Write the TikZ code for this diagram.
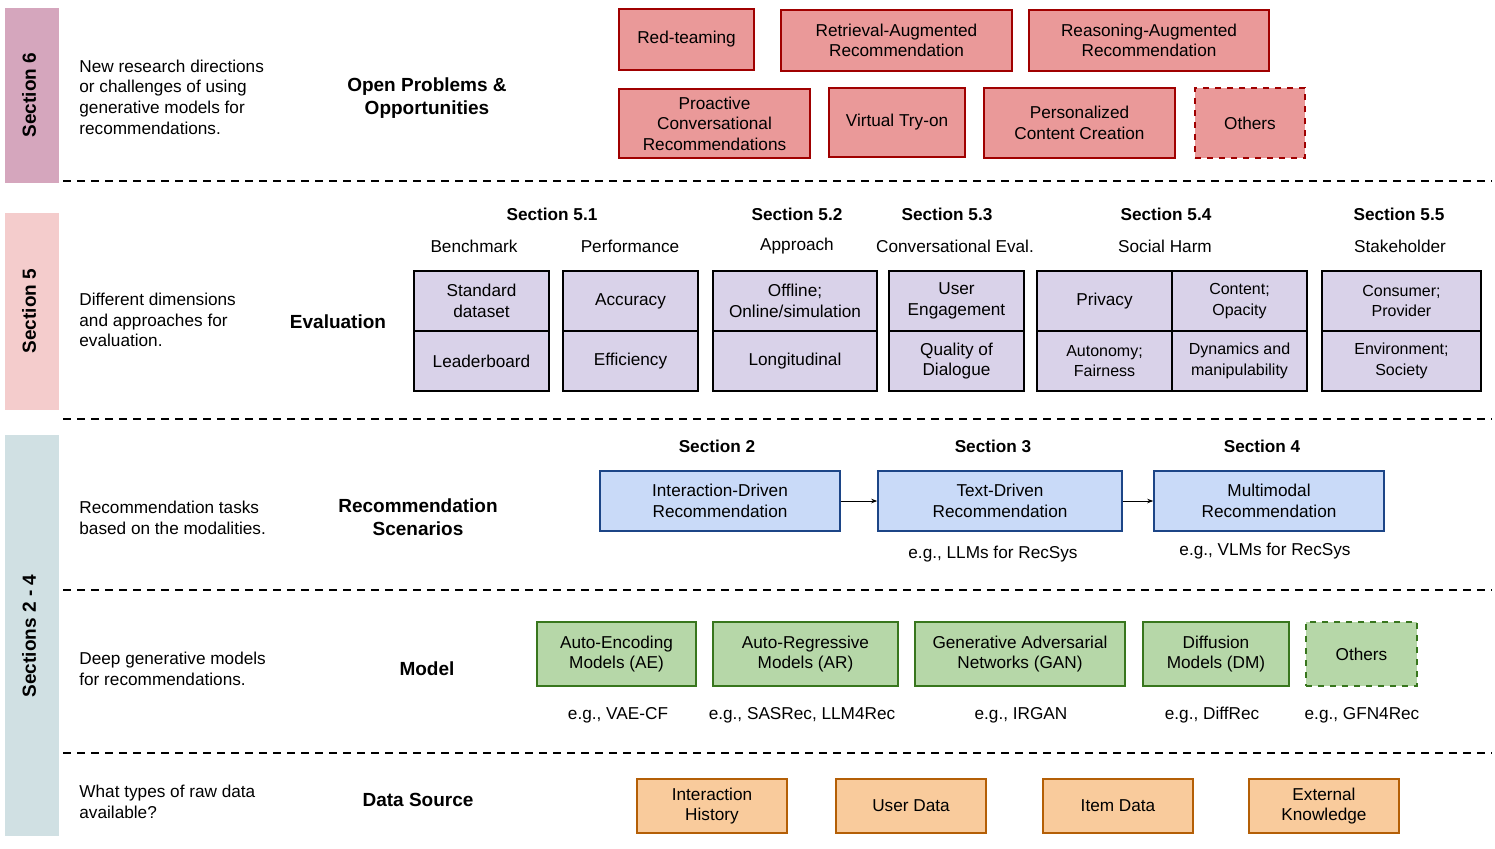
\documentclass[tikz,border=0pt]{standalone}
\usepackage{fontspec}
\setmainfont{Liberation Sans}
\usetikzlibrary{arrows.meta}
\definecolor{bsix}{HTML}{D5A6BD}\definecolor{bfive}{HTML}{F4CCCC}\definecolor{bfour}{HTML}{D0E0E3}
\definecolor{redf}{HTML}{EA9999}\definecolor{redd}{HTML}{A00000}
\definecolor{purf}{HTML}{D9D2E9}
\definecolor{bluf}{HTML}{C9DAF8}\definecolor{blud}{HTML}{1C4587}
\definecolor{grnf}{HTML}{B6D7A8}\definecolor{grnd}{HTML}{38761D}
\definecolor{orf}{HTML}{F9CB9C}\definecolor{ord}{HTML}{B45F06}
\begin{document}
\begin{tikzpicture}[x=0.5pt,y=-0.5pt,
  every node/.style={font=\fontsize{8.6}{10.3}\selectfont, inner sep=0pt},
  box/.style={draw, line width=0.8pt, align=center},
  red/.style={box, fill=redf, draw=redd},
  pur/.style={box, fill=purf, draw=black},
  blu/.style={box, fill=bluf, draw=blud},
  grn/.style={box, fill=grnf, draw=grnd},
  org/.style={box, fill=orf, draw=ord},
  dsh/.style={dashed},
  desc/.style={anchor=west, align=left},
  title/.style={font=\fontsize{9.5}{11.5}\selectfont\bfseries, align=center},
  sec/.style={font=\fontsize{8.6}{10}\selectfont\bfseries},
  side/.style={font=\fontsize{9.5}{11}\selectfont\bfseries, rotate=90},
  sep/.style={dashed, line width=0.8pt, dash pattern=on 4pt off 3pt}]
\useasboundingbox (0,0) rectangle (1495,848);
% side bars
\fill[bsix] (5,8) rectangle (59,183);
\fill[bfive] (5,213) rectangle (59,410);
\fill[bfour] (5,435) rectangle (59,836);
\node[side] (s6) at (29,95) {Section 6};
\node[side] (s5) at (29,311) {Section 5};
\node[side] (s24) at (29,636) {Sections 2 - 4};
% separators
\draw[sep] (63,181) -- (1492,181);
\draw[sep] (63,419) -- (1492,419);
\draw[sep] (63,590) -- (1492,590);
\draw[sep] (63,753) -- (1492,753);
% section 6
\node[desc] (d6) at (79,97) {New research directions\\or challenges of using\\generative models for\\recommendations.};
\node[title] (t6) at (427,98) {Open Problems \&\\Opportunities};
\node[red, minimum width=135pt*0.5*2/2*2/2, minimum width=67.5pt, minimum height=30.5pt] (r1) at (686.5,39.5) {Red-teaming};
\node[red, minimum width=115.5pt, minimum height=30.5pt] (r2) at (896.5,40.5) {Retrieval-Augmented\\Recommendation};
\node[red, minimum width=120pt, minimum height=30.5pt] (r3) at (1149,40.5) {Reasoning-Augmented\\Recommendation};
\node[red, minimum width=95.5pt, minimum height=34.5pt] (r4) at (714.5,123.5) {Proactive\\Conversational\\Recommendations};
\node[red, minimum width=68pt, minimum height=34.5pt] (r5) at (897,122.5) {Virtual Try-on};
\node[red, minimum width=95.5pt, minimum height=35pt] (r6) at (1079.5,123) {Personalized\\Content Creation};
\node[red, dsh, minimum width=55pt, minimum height=35pt] (r7) at (1250,123) {Others};
% section 5
\node[desc] (d5) at (79,320) {Different dimensions\\and approaches for\\evaluation.};
\node[title] (t5) at (338,322) {Evaluation};
\foreach \n/\x/\t in {h1/552/Section 5.1,h2/797/Section 5.2,h3/947/Section 5.3,h4/1166/Section 5.4,h5/1399/Section 5.5}
  \node[sec] (\n) at (\x,214) {\t};
\foreach \n/\x/\t in {g1/474/Benchmark,g2/630/Performance,g3/797/Approach,g4/955/Conversational Eval.,g5/1165/Social Harm,g6/1400/Stakeholder}
  \node (\n) at (\x,246) {\t};
\foreach \n/\a/\b/\t/\u in {
  e1/414/549/{Standard\\dataset}/Leaderboard,
  e2/563/698/Accuracy/Efficiency,
  e3/713/877/{Offline;\\Online/simulation}/Longitudinal,
  e4/889/1024/{User\\Engagement}/{Quality of\\Dialogue},
  e5/1037/1172/Privacy/{\fontsize{8}{9.6}\selectfont Autonomy;\\\fontsize{8}{9.6}\selectfont Fairness},
  e6/1172/1307/{\fontsize{8}{9.6}\selectfont Content;\\\fontsize{8}{9.6}\selectfont Opacity}/{\fontsize{8}{9.6}\selectfont Dynamics and\\\fontsize{8}{9.6}\selectfont manipulability},
  e7/1322/1481/{\fontsize{8}{9.6}\selectfont Consumer;\\\fontsize{8}{9.6}\selectfont Provider}/{\fontsize{8}{9.6}\selectfont Environment;\\\fontsize{8}{9.6}\selectfont Society}} {
  \node[pur, minimum width={(\b-\a)*0.5pt}, minimum height=30pt] (\n a) at ({(\a+\b)/2},301) {\t};
  \node[pur, minimum width={(\b-\a)*0.5pt}, minimum height=30pt] (\n b) at ({(\a+\b)/2},361) {\u};
}
% sections 2-4
\node[desc] (d4) at (79,518) {Recommendation tasks\\based on the modalities.};
\node[title] (t4) at (418,517) {Recommendation\\Scenarios};
\node[sec] (q2) at (717,446) {Section 2};
\node[sec] (q3) at (993,446) {Section 3};
\node[sec] (q4) at (1262,446) {Section 4};
\node[blu, minimum width=120pt, minimum height=30pt] (b1) at (720,501) {Interaction-Driven\\Recommendation};
\node[blu, minimum width=122pt, minimum height=30pt] (b2) at (1000,501) {Text-Driven\\Recommendation};
\node[blu, minimum width=115pt, minimum height=30pt] (b3) at (1269,501) {Multimodal\\Recommendation};
\draw[-{Stealth[length=3pt]}, line width=0.5pt] (b1) -- (b2);
\draw[-{Stealth[length=3pt]}, line width=0.5pt] (b2) -- (b3);
\node (x1) at (993,554) {e.g., LLMs for RecSys};
\node (x2) at (1265,551) {e.g., VLMs for RecSys};
% model
\node[desc] (dm) at (79,669) {Deep generative models\\for recommendations.};
\node[title] (tm) at (427,669) {Model};
\node[grn, minimum width=79.5pt, minimum height=32pt] (m1) at (616.5,654) {Auto-Encoding\\Models (AE)};
\node[grn, minimum width=92.5pt, minimum height=32pt] (m2) at (805.5,654) {Auto-Regressive\\Models (AR)};
\node[grn, minimum width=105pt, minimum height=32pt] (m3) at (1020,654) {Generative Adversarial\\Networks (GAN)};
\node[grn, minimum width=73pt, minimum height=32pt] (m4) at (1216,654) {Diffusion\\Models (DM)};
\node[grn, dsh, minimum width=55.5pt, minimum height=32pt] (m5) at (1361.5,654) {Others};
\node (y1) at (618,715) {e.g., VAE-CF};
\node (y2) at (802,715) {e.g., SASRec, LLM4Rec};
\node (y3) at (1021,715) {e.g., IRGAN};
\node (y4) at (1212,715) {e.g., DiffRec};
\node (y5) at (1362,715) {e.g., GFN4Rec};
% data
\node[desc] (dd) at (79,802) {What types of raw data\\available?};
\node[title] (td) at (418,800) {Data Source};
\node[org, minimum width=75pt, minimum height=27pt] (o1) at (712,806) {Interaction\\History};
\node[org, minimum width=75pt, minimum height=27pt] (o2) at (911,806) {User Data};
\node[org, minimum width=75pt, minimum height=27pt] (o3) at (1118,806) {Item Data};
\node[org, minimum width=75pt, minimum height=27pt] (o4) at (1324,806) {External\\Knowledge};
\end{tikzpicture}
\end{document}
